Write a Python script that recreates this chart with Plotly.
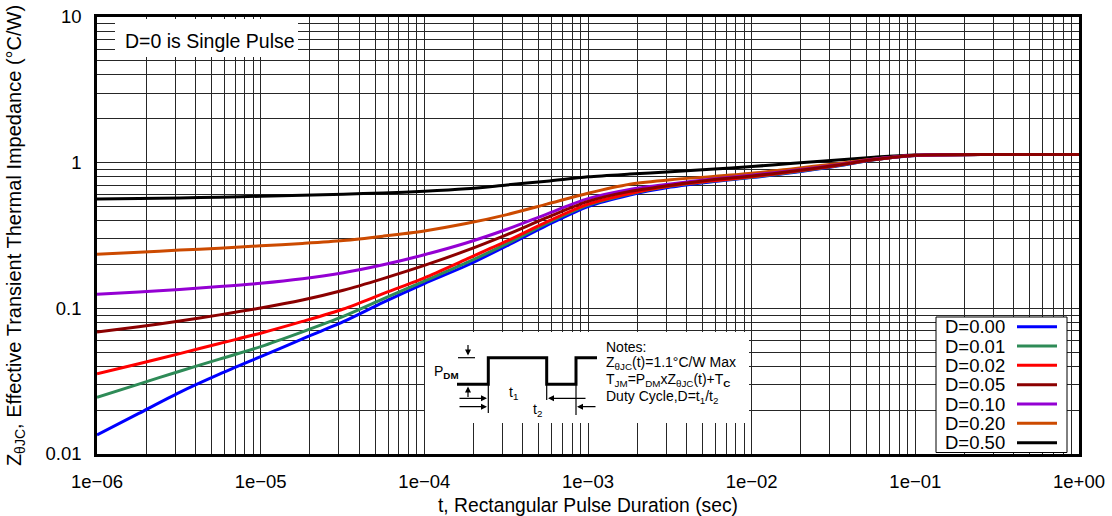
import plotly.graph_objects as go

# ---------------- data ----------------
t = [1e-6, 1.8e-6, 3.2e-6, 5.6e-6, 1e-5, 1.8e-5, 3.2e-5, 5.6e-5, 1e-4, 1.8e-4,
     3.2e-4, 5.6e-4, 1e-3, 1.8e-3, 3.2e-3, 5.6e-3, 1e-2, 1.8e-2, 3.2e-2, 5.6e-2,
     1e-1, 3.2e-1, 1.0]

z_d000 = [0.0135, 0.019, 0.0265, 0.0353, 0.0466, 0.0617, 0.081, 0.11, 0.148, 0.196,
          0.269, 0.371, 0.50, 0.60, 0.68, 0.738, 0.79, 0.855, 0.94, 1.045, 1.12, 1.14, 1.14]
z_d001 = [0.0245, 0.0302, 0.037, 0.0448, 0.0546, 0.069, 0.088, 0.116, 0.154, 0.205,
          0.278, 0.383, 0.512, 0.61, 0.69, 0.745, 0.795, 0.862, 0.945, 1.047, 1.12, 1.14, 1.14]
z_d002 = [0.0355, 0.0417, 0.0489, 0.0574, 0.0675, 0.0813, 0.099, 0.126, 0.162, 0.217,
          0.29, 0.392, 0.519, 0.615, 0.695, 0.75, 0.80, 0.868, 0.95, 1.05, 1.12, 1.14, 1.14]
z_d005 = [0.0689, 0.0748, 0.0818, 0.0902, 0.1005, 0.114, 0.133, 0.16, 0.197, 0.249,
          0.321, 0.419, 0.542, 0.635, 0.70, 0.76, 0.81, 0.875, 0.955, 1.05, 1.125, 1.14, 1.14]
z_d010 = [0.125, 0.1297, 0.1349, 0.141, 0.1486, 0.1596, 0.1754, 0.199, 0.2333, 0.281,
          0.349, 0.444, 0.566, 0.655, 0.715, 0.77, 0.82, 0.885, 0.96, 1.055, 1.125, 1.14, 1.14]
z_d020 = [0.235, 0.243, 0.251, 0.259, 0.2685, 0.279, 0.292, 0.313, 0.340, 0.382,
          0.44, 0.519, 0.617, 0.711, 0.764, 0.80, 0.845, 0.91, 0.98, 1.06, 1.125, 1.14, 1.14]
z_d050 = [0.563, 0.568, 0.573, 0.58, 0.588, 0.597, 0.607, 0.62, 0.636, 0.661,
          0.703, 0.746, 0.80, 0.835, 0.865, 0.90, 0.94, 0.99, 1.04, 1.09, 1.13, 1.14, 1.14]

names = ["D=0.00", "D=0.01", "D=0.02", "D=0.05", "D=0.10", "D=0.20", "D=0.50"]
series = [z_d000, z_d001, z_d002, z_d005, z_d010, z_d020, z_d050]
colors = ["#0000FF", "#2E8B57", "#FF0000", "#8B0000", "#9400D3", "#CC4A00", "#000000"]
draw_order = [6, 5, 0, 1, 2, 4, 3]

x_decades = [-6, -5, -4, -3, -2, -1, 0]
x_labels = ["1e\u221206", "1e\u221205", "1e\u221204", "1e\u221203", "1e\u221202", "1e\u221201", "1e+00"]
y_decades = [-2, -1, 0, 1]
y_labels = ["0.01", "0.1", "1", "10"]

x_title = "t, Rectangular Pulse Duration (sec)"
y_title = "Z<sub>\u03b8JC</sub>, Effective Transient Thermal Impedance (\u00b0C/W)"
note_lines = ["Notes:",
              "Z<sub>\u03b8JC</sub>(t)=1.1\u00b0C/W Max",
              "T<sub>JM</sub>=P<sub>DM</sub>xZ<sub>\u03b8JC</sub>(t)+T<sub><b>C</b></sub>",
              "Duty Cycle,D=t<sub>1</sub>/t<sub>2</sub>"]
single_pulse_text = "D=0 is Single Pulse"

# ---------------- geometry helpers ----------------
W, H = 1112, 516
L, R, T, B = 97, 1079, 17, 454
FONT = "Liberation Sans, Arial, Helvetica, sans-serif"
GRID = "#262626"


def px(x):
    return (x - L) / (R - L)


def py(y):
    return (B - y) / (B - T)


def log_ticks(decades, labels):
    vals, texts = [], []
    for i, d in enumerate(decades):
        if i == len(decades) - 1:
            vals.append(10.0 ** d)
            texts.append(labels[i])
            break
        for m in range(1, 10):
            vals.append(m * 10.0 ** d)
            texts.append(labels[i] if m == 1 else "")
    return vals, texts


xtv, xtt = log_ticks(x_decades, x_labels)
ytv, ytt = log_ticks(y_decades, y_labels)

fig = go.Figure()
for i in draw_order:
    fig.add_trace(go.Scatter(x=t, y=series[i], mode="lines", name=names[i],
                             line=dict(color=colors[i], width=3, shape="spline", smoothing=0.8),
                             showlegend=False))

fig.update_layout(
    width=W, height=H,
    margin=dict(l=L, r=W - R, t=T, b=H - B, pad=0),
    paper_bgcolor="white", plot_bgcolor="white",
    font=dict(family=FONT, size=18, color="black"),
    showlegend=False,
)
fig.update_xaxes(type="log", range=[-6, 0], tickvals=xtv, ticktext=xtt,
                 showgrid=True, gridcolor=GRID, gridwidth=1, zeroline=False,
                 showline=True, linecolor="black", linewidth=2.5, mirror=True,
                 ticks="", ticklabelstandoff=9, automargin=False,
                 tickfont=dict(size=18.5),
                 title=dict(text=x_title, standoff=8, font=dict(size=19.3)))
fig.update_yaxes(type="log", range=[-2, 1], tickvals=ytv, ticktext=ytt,
                 showgrid=True, gridcolor=GRID, gridwidth=1, zeroline=False,
                 showline=True, linecolor="black", linewidth=2.5, mirror=True,
                 ticks="", ticklabelstandoff=9, automargin=False,
                 tickfont=dict(size=18.5),
                 title=dict(text=y_title, standoff=19, font=dict(size=20)))

shapes = []
annotations = []

# "D=0 is Single Pulse" box
shapes.append(dict(type="rect", xref="paper", yref="paper", x0=px(115), x1=px(298),
                   y0=py(57), y1=py(19), fillcolor="white", line=dict(width=0), layer="above"))
annotations.append(dict(xref="paper", yref="paper", x=px(210), y=py(41), text=single_pulse_text,
                        showarrow=False, xanchor="center", yanchor="middle", font=dict(size=19.5)))

# Notes box
shapes.append(dict(type="rect", xref="paper", yref="paper", x0=px(425), x1=px(749),
                   y0=py(423), y1=py(332), fillcolor="white", line=dict(width=0), layer="above"))
pulse = [(457, 384.3), (488.3, 384.3), (488.3, 357.7), (546.7, 357.7), (546.7, 384.3),
         (576, 384.3), (576, 357.7), (597, 357.7)]
path = "M " + " L ".join(f"{px(a):.5f},{py(b):.5f}" for a, b in pulse)
shapes.append(dict(type="path", xref="paper", yref="paper", path=path,
                   line=dict(color="black", width=3), layer="above"))
for (x0, y0, x1, y1) in [(488.3, 384, 488.3, 413), (546.7, 384, 546.7, 400),
                         (576, 384, 576, 415), (458, 357.7, 475, 357.7)]:
    shapes.append(dict(type="line", xref="paper", yref="paper", x0=px(x0), y0=py(y0),
                       x1=px(x1), y1=py(y1), line=dict(color="black", width=1.2), layer="above"))
# arrows (head position, tail offset in px)
for (hx, hy, ax, ay) in [(468, 355.5, 0, -12), (468, 386.5, 0, 12),
                         (487, 398.3, -29, 0), (548, 398.3, 39, 0),
                         (487, 406.7, -29, 0), (577, 406.7, 20, 0)]:
    annotations.append(dict(xref="paper", yref="paper", x=px(hx), y=py(hy), text="",
                            showarrow=True, ax=ax, ay=ay, axref="pixel", ayref="pixel",
                            arrowhead=2, arrowsize=1, arrowwidth=1.2, arrowcolor="black",
                            standoff=0, startstandoff=0))
annotations.append(dict(xref="paper", yref="paper", x=px(432), y=py(372), text="P<sub><b>DM</b></sub>",
                        showarrow=False, xanchor="left", yanchor="middle", font=dict(size=14)))
annotations.append(dict(xref="paper", yref="paper", x=px(507), y=py(393), text="t<sub>1</sub>",
                        showarrow=False, xanchor="left", yanchor="middle", font=dict(size=14)))
annotations.append(dict(xref="paper", yref="paper", x=px(531), y=py(410), text="t<sub>2</sub>",
                        showarrow=False, xanchor="left", yanchor="middle", font=dict(size=14)))
for txt, yc in zip(note_lines, [346.5, 362.5, 380, 396.5]):
    annotations.append(dict(xref="paper", yref="paper", x=px(604), y=py(yc), text=txt,
                            showarrow=False, xanchor="left", yanchor="middle", font=dict(size=14)))

# Legend box (custom: labels left, line samples right)
shapes.append(dict(type="rect", xref="paper", yref="paper", x0=px(936), x1=px(1067),
                   y0=py(452.5), y1=py(317), fillcolor="white",
                   line=dict(color="black", width=1), layer="above"))
for i, name in enumerate(names):
    yc = 326.7 + i * 19.33
    annotations.append(dict(xref="paper", yref="paper", x=px(943), y=py(yc), text=name,
                            showarrow=False, xanchor="left", yanchor="middle", font=dict(size=18.5)))
    shapes.append(dict(type="line", xref="paper", yref="paper", x0=px(1017), x1=px(1057),
                       y0=py(yc), y1=py(yc), line=dict(color=colors[i], width=3), layer="above"))

fig.update_layout(shapes=shapes, annotations=annotations)
fig.write_html("out.html")
